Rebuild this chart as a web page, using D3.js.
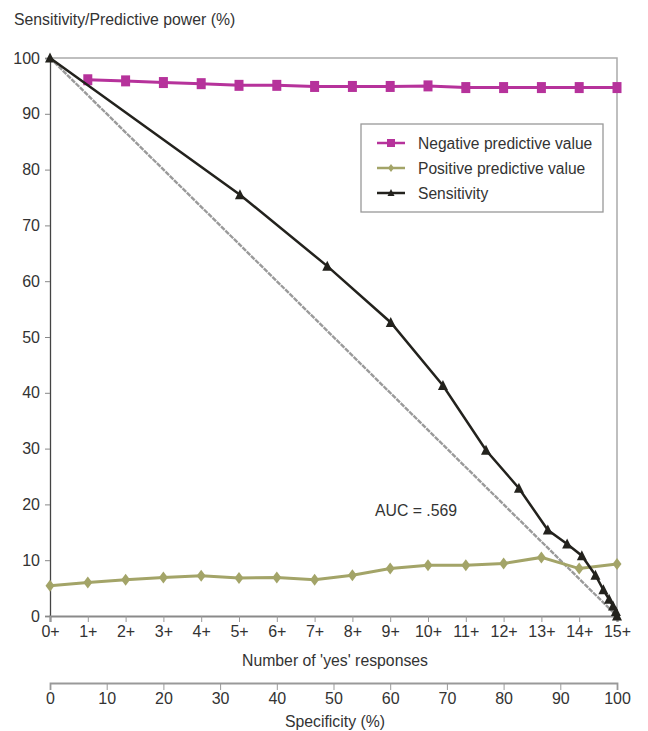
<!DOCTYPE html>
<html>
<head>
<meta charset="utf-8">
<script src="https://cdn.jsdelivr.net/npm/d3@7"></script>
<style>
  body { margin: 0; background: #fff; }
  text { font-family: "Liberation Sans", Arial, sans-serif; fill: #333; }
</style>
</head>
<body>
<div id="chart"></div>
<script>
const responses = ["0+", "1+", "2+", "3+", "4+", "5+", "6+", "7+", "8+", "9+", "10+", "11+", "12+", "13+", "14+", "15+"];
const npv = [null, 96.1, 95.9, 95.6, 95.4, 95.1, 95.1, 94.9, 94.9, 94.9, 95.0, 94.7, 94.7, 94.7, 94.7, 94.7];
const ppv = [5.4, 6.0, 6.5, 6.9, 7.2, 6.8, 6.9, 6.5, 7.3, 8.5, 9.1, 9.1, 9.4, 10.5, 8.5, 9.3];
const specificity = [0, 33.5, 48.9, 60.1, 69.3, 76.9, 82.7, 87.8, 91.2, 93.8, 96.2, 97.6, 98.6, 99.3, 99.8, 100];
const sensitivity = [100, 75.5, 62.7, 52.6, 41.3, 29.7, 22.9, 15.4, 12.9, 10.8, 7.3, 4.7, 3.0, 1.8, 0.8, 0];
const yTicks = [0, 10, 20, 30, 40, 50, 60, 70, 80, 90, 100];
const specTicks = [0, 10, 20, 30, 40, 50, 60, 70, 80, 90, 100];

const W = 648, H = 731,
  pLeft = 50, pRight = 617, pTop = 58, pBottom = 616,
  colorNpv = "#b6329b",
  colorPpv = "#a3a468",
  colorSens = "#23221d",
  tickFont = "16px",
  titleFont = "15.8px";

const svg = d3.select("#chart").append("svg").attr("width", W).attr("height", H);

const x = d3.scalePoint().domain(responses).range([pLeft, pRight]);
const xs = d3.scaleLinear().domain([0, 100]).range([pLeft, pRight]);
const y = d3.scaleLinear().domain([0, 100]).range([pBottom, pTop]);

// frame: top and right border
svg.append("path")
  .attr("d", `M${pLeft},${pTop}H${pRight}V${pBottom}`)
  .attr("fill", "none").attr("stroke", "#aaa").attr("stroke-width", 1.5);

// y axis
const yAxis = svg.append("g").attr("transform", `translate(${pLeft},0)`)
  .call(d3.axisLeft(y).tickValues(yTicks).tickSize(5).tickPadding(5));
yAxis.select(".domain").attr("stroke", "#444").attr("stroke-width", 1.3);
yAxis.selectAll(".tick line").attr("stroke", "#888");
yAxis.selectAll("text").style("font-size", tickFont).attr("fill", "#333");

// x axis (responses)
const xAxis = svg.append("g").attr("transform", `translate(0,${pBottom})`)
  .call(d3.axisBottom(x).tickSize(6).tickPadding(4));
xAxis.select(".domain").attr("stroke", "#8a8a8a").attr("stroke-width", 2.2);
xAxis.selectAll(".tick line").attr("stroke", "#999");
xAxis.selectAll("text").style("font-size", tickFont).attr("fill", "#333");

// specificity axis
const sAxis = svg.append("g").attr("transform", `translate(0,683)`)
  .call(d3.axisBottom(xs).tickValues(specTicks).tickSize(7).tickPadding(3).tickSizeOuter(7));
sAxis.select(".domain").attr("stroke", "#999").attr("stroke-width", 1.8);
sAxis.selectAll(".tick line").attr("stroke", "#999");
sAxis.selectAll("text").style("font-size", tickFont).attr("fill", "#333");

// titles
svg.append("text").attr("x", 14).attr("y", 25).style("font-size", titleFont)
  .text("Sensitivity/Predictive power (%)");
svg.append("text").attr("x", 335).attr("y", 666).attr("text-anchor", "middle").style("font-size", titleFont)
  .text("Number of 'yes' responses");
svg.append("text").attr("x", 335).attr("y", 727).attr("text-anchor", "middle").style("font-size", titleFont)
  .text("Specificity (%)");

// diagonal reference
svg.append("line")
  .attr("x1", xs(0)).attr("y1", y(100)).attr("x2", xs(100)).attr("y2", y(0))
  .attr("stroke", "#9a9a9a").attr("stroke-width", 2.4).attr("stroke-dasharray", "5,1");

// NPV
const npvData = responses.map((r, i) => ({ r, v: npv[i] })).filter(d => d.v != null);
svg.append("path").datum(npvData)
  .attr("fill", "none").attr("stroke", colorNpv).attr("stroke-width", 3)
  .attr("d", d3.line().x(d => x(d.r)).y(d => y(d.v)));
svg.selectAll(".npv").data(npvData).enter().append("rect")
  .attr("x", d => x(d.r) - 4.5).attr("y", d => y(d.v) - 5.5)
  .attr("width", 9).attr("height", 11).attr("fill", colorNpv);

// PPV
const ppvData = responses.map((r, i) => ({ r, v: ppv[i] }));
svg.append("path").datum(ppvData)
  .attr("fill", "none").attr("stroke", colorPpv).attr("stroke-width", 3)
  .attr("d", d3.line().x(d => x(d.r)).y(d => y(d.v)));
svg.selectAll(".ppv").data(ppvData).enter().append("path")
  .attr("transform", d => `translate(${x(d.r)},${y(d.v)})`)
  .attr("d", "M0,-6L4.5,0L0,6L-4.5,0Z").attr("fill", colorPpv);

// Sensitivity
const sensData = specificity.map((s, i) => ({ s, v: sensitivity[i] }));
svg.append("path").datum(sensData)
  .attr("fill", "none").attr("stroke", colorSens).attr("stroke-width", 2.5)
  .attr("d", d3.line().x(d => xs(d.s)).y(d => y(d.v)));
svg.selectAll(".sens").data(sensData).enter().append("path")
  .attr("transform", d => `translate(${xs(d.s)},${y(d.v)})`)
  .attr("d", "M0,-5.5L5,4.5L-5,4.5Z").attr("fill", colorSens);

// AUC
svg.append("text").attr("x", 375).attr("y", 516).style("font-size", titleFont).text("AUC = .569");

// legend
const lg = svg.append("g").attr("transform", "translate(361,124)");
lg.append("rect").attr("width", 242).attr("height", 88)
  .attr("fill", "#fff").attr("stroke", "#999").attr("stroke-width", 1.3);
const legendItems = [
  { name: "Negative predictive value", color: colorNpv, shape: "M-4,-4H4V4H-4Z" },
  { name: "Positive predictive value", color: colorPpv, shape: "M0,-4L3,0L0,4L-3,0Z" },
  { name: "Sensitivity", color: colorSens, shape: "M0,-4L3.5,3L-3.5,3Z" }
];
legendItems.forEach((d, i) => {
  const g = lg.append("g").attr("transform", `translate(0,${19 + i * 25})`);
  g.append("line").attr("x1", 16).attr("x2", 44).attr("stroke", d.color).attr("stroke-width", 2.5);
  g.append("path").attr("transform", "translate(30,0)").attr("d", d.shape).attr("fill", d.color);
  g.append("text").attr("x", 57).attr("y", 5.5).style("font-size", "15.6px").text(d.name);
});
</script>
</body>
</html>
